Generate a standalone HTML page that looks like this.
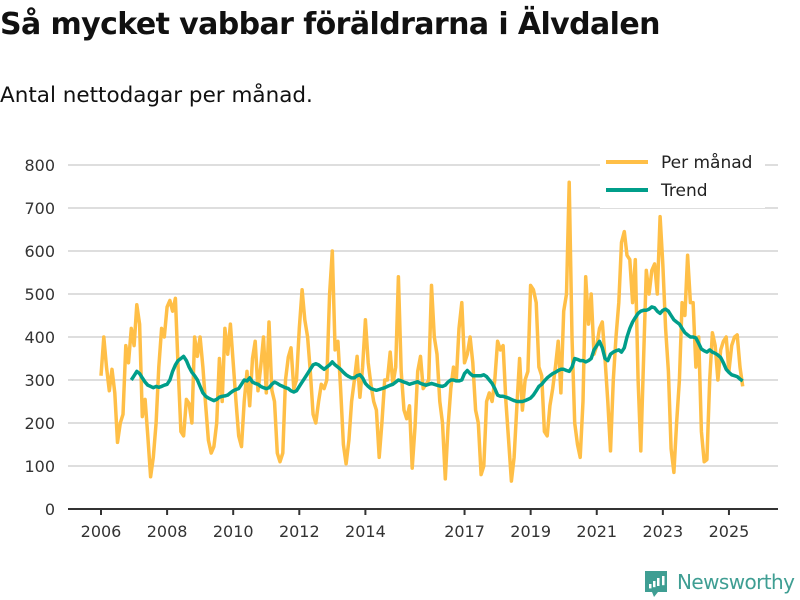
<!DOCTYPE html>
<html><head><meta charset="utf-8">
<style>
body{margin:0;width:800px;height:600px;background:#fff;font-family:"Liberation Sans","DejaVu Sans",sans-serif;overflow:hidden}
#title{position:absolute;left:0;top:7px;font-size:30px;font-weight:bold;color:#111;margin:0;font-family:"DejaVu Sans","Liberation Sans",sans-serif;letter-spacing:-0.6px}
#subtitle{position:absolute;left:0;top:83px;font-size:21.5px;color:#111;font-family:"DejaVu Sans","Liberation Sans",sans-serif}
svg{position:absolute;left:0;top:0}
</style></head><body>
<h1 id="title">Så mycket vabbar föräldrarna i Älvdalen</h1>
<div id="subtitle">Antal nettodagar per månad.</div>
<svg id="chart" width="800" height="600"></svg>
<script>
const startYear = 2006;
const perMonth = [
310,400,330,275,325,270,155,200,220,380,340,420,
380,475,430,215,255,170,75,120,200,330,420,400,
470,485,460,490,330,180,170,255,245,200,400,355,
400,330,240,160,130,145,200,350,250,420,360,430,
340,250,170,145,250,320,240,350,390,275,330,400,
270,435,277,250,130,110,130,300,353,375,280,300,
420,510,440,400,320,220,200,250,290,280,300,500,
600,370,390,280,150,105,160,250,300,355,260,330,
440,340,290,250,230,120,200,300,300,365,290,330,
540,320,230,210,240,95,190,320,355,280,290,300,
520,400,360,250,200,70,190,280,330,300,420,480,
340,360,400,340,230,200,80,100,250,270,250,300,
390,370,380,250,160,65,120,240,350,230,300,320,
520,510,480,330,310,180,170,240,280,330,390,270,
460,500,760,400,200,150,120,250,540,430,500,360,
380,420,435,350,250,135,300,400,480,620,645,590,
580,480,580,300,135,350,555,500,555,570,500,680,
570,420,320,140,85,200,300,480,450,590,480,480,
330,400,180,110,115,300,410,380,300,370,390,400,
320,380,400,405,330,285];
const trend = [
null,null,null,null,null,null,null,null,null,null,null,300,
310,320,315,305,295,288,285,282,285,283,285,288,
290,300,320,335,345,350,355,345,330,318,310,300,
285,270,262,258,255,252,255,260,262,263,265,270,
275,278,280,290,300,298,305,295,292,290,285,282,
280,282,290,295,292,288,285,282,280,275,272,275,
285,295,305,315,325,335,338,335,330,325,330,335,
342,335,330,325,318,312,308,305,305,310,312,305,
292,285,280,278,276,278,280,282,285,288,290,295,
300,298,295,293,290,292,294,296,292,290,288,290,
292,290,288,286,285,288,295,300,300,298,298,300,
315,322,315,310,310,310,310,312,308,300,292,280,
265,262,262,260,258,255,252,250,250,250,252,255,
258,265,275,285,290,298,305,310,315,318,322,325,
325,322,320,330,350,348,345,345,342,345,350,370,
380,390,375,350,345,360,365,368,370,365,375,400,
420,435,445,455,460,462,462,465,470,468,460,455,
462,465,460,450,440,435,430,420,410,405,400,400,
398,385,372,368,365,370,365,362,358,352,340,325,
318,312,310,308,302,298];
const yTicks = [0,100,200,300,400,500,600,700,800];
const xTickYears = [2006,2008,2010,2012,2014,2017,2019,2021,2023,2025];

const NS='http://www.w3.org/2000/svg';
const svg=document.getElementById('chart');
const x0=101, pxYear=33.05, y0=509, pxUnit=0.43;
function xs(i){return x0 + (i/12)*pxYear;}
function xy(yr){return x0 + (yr-startYear)*pxYear;}
function ys(v){return y0 - v*pxUnit;}
function mk(tag,attrs){const e=document.createElementNS(NS,tag);for(const k in attrs)e.setAttribute(k,attrs[k]);svg.appendChild(e);return e;}

yTicks.forEach(t=>{
  if(t>0){const g=mk('line',{x1:68,x2:778,y1:ys(t),y2:ys(t),stroke:'#dedede','stroke-width':2});
  
  }
  const l=mk('text',{x:55,y:ys(t)+6,'text-anchor':'end','font-size':16,fill:'#333','font-family':'DejaVu Sans, Liberation Sans, sans-serif'});
  l.textContent=t;
  
  
});
const ax=mk('line',{x1:68,x2:778,y1:y0,y2:y0,stroke:'#333','stroke-width':2});


xTickYears.forEach(yr=>{
  const x=xy(yr);
  const tk=mk('line',{x1:x,x2:x,y1:y0,y2:y0+6,stroke:'#333','stroke-width':2});
  
  
  const l=mk('text',{x:x,y:537,'text-anchor':'middle','font-size':16,fill:'#333','font-family':'DejaVu Sans, Liberation Sans, sans-serif'});
  l.textContent=yr;
  
  
});
function pathOf(arr){let d='';arr.forEach((v,i)=>{if(v==null)return;d+=(d?'L':'M')+xs(i).toFixed(1)+','+ys(v).toFixed(1);});return d;}
const p1=mk('path',{d:pathOf(perMonth),fill:'none',stroke:'#ffbf47','stroke-width':3.5,'stroke-linejoin':'round'});


const p2=mk('path',{d:pathOf(trend),fill:'none',stroke:'#009e8a','stroke-width':3.5,'stroke-linejoin':'round'});



// legend
const lb=mk('rect',{x:600,y:150,width:165,height:58,fill:'#fff'});


[['Per månad','#ffbf47',162],['Trend','#009e8a',190]].forEach(([t,c,y])=>{
  const ln=mk('line',{x1:606,x2:648,y1:y,y2:y,stroke:c,'stroke-width':4});
  
  
  const tx=mk('text',{x:661,y:y+6,'font-size':17,fill:'#222','font-family':'DejaVu Sans, Liberation Sans, sans-serif'});
  tx.textContent=t;
  
  
});
// logo
const lg=mk('path',{d:'M645,571 h22 v21 h-9 l-4,5 l-2,-5 h-7 z',fill:'#3f9e93'});


[[649,584,4],[653,581,7],[657,578,10],[662,576,12]].forEach(([x,y,h])=>{mk('rect',{x:x,y:y,width:2.5,height:h*0.6+2,fill:'#fff'});});
const lt=mk('text',{x:677,y:589,'font-size':20,fill:'#3f9e93','font-family':'DejaVu Sans, Liberation Sans, sans-serif','textLength':118});
lt.textContent='Newsworthy';


</script>
</body></html>
